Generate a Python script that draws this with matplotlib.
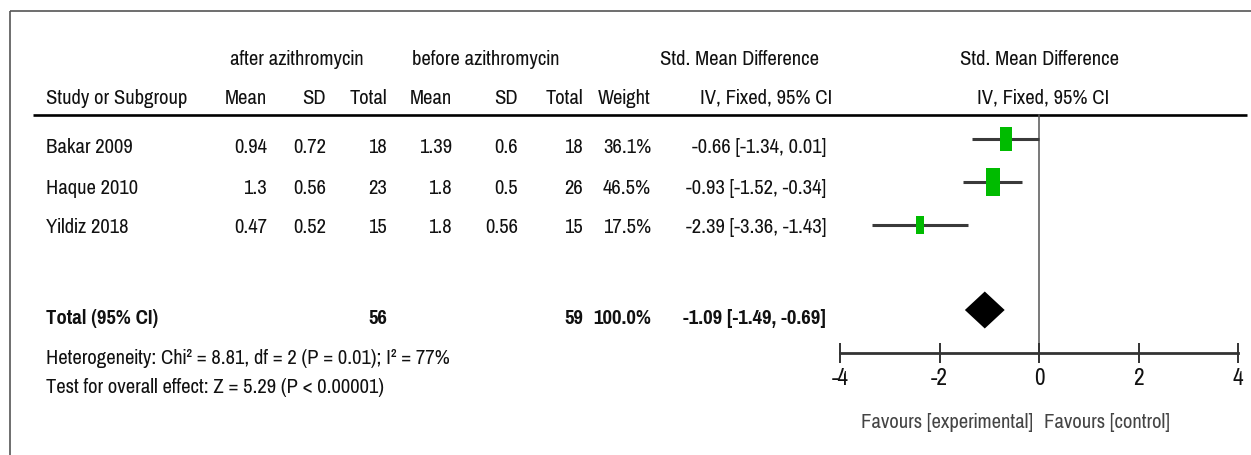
import numpy as np
import matplotlib
matplotlib.use("Agg")
import matplotlib.pyplot as plt
from matplotlib.patches import Rectangle, Polygon

plt.rcParams['font.family'] = ['Pragati Narrow', 'Liberation Sans', 'DejaVu Sans']

# ---- data ----
studies = ["Bakar 2009", "Haque 2010", "Yildiz 2018"]
after_mean = [0.94, 1.3, 0.47]
after_sd = [0.72, 0.56, 0.52]
after_n = [18, 23, 15]
before_mean = [1.39, 1.8, 1.8]
before_sd = [0.6, 0.5, 0.56]
before_n = [18, 26, 15]
weights = [36.1, 46.5, 17.5]
smd = [-0.66, -0.93, -2.39]
ci_low = [-1.34, -1.52, -3.36]
ci_high = [0.01, -0.34, -1.43]

total_after_n = 56
total_before_n = 59
total_weight = 100.0
total_smd = -1.09
total_low = -1.49
total_high = -0.69

heterogeneity = "Heterogeneity: Chi² = 8.81, df = 2 (P = 0.01); I² = 77%"
overall_test = "Test for overall effect: Z = 5.29 (P < 0.00001)"
xticks = [-4, -2, 0, 2, 4]
favour_left = "Favours [experimental]"
favour_right = "Favours [control]"

# ---- layout (pixel units) ----
W, H = 1251, 455
fs = 16.2
txt = "#111111"
row_base = [153, 194, 233]      # text baselines for study rows
row_mark = [139, 182, 225]      # marker centres for study rows
total_base = 324
total_mark = 310
het_base = 364
test_base = 393
head1_base = 65
head2_base = 104
rule_y = 115
axis_y = 353

col_study = 46
col_am, col_asd, col_an = 267, 326, 387
col_bm, col_bsd, col_bn = 452, 518, 583
col_w = 651
col_ci = 826

fig = plt.figure(figsize=(W / 100, H / 100), dpi=100)
fig.patch.set_facecolor("white")

ax_t = fig.add_axes([0, 0, 1, 1])
ax_t.set_xlim(0, W)
ax_t.set_ylim(H, 0)
ax_t.axis("off")

# outer frame and header rule
ax_t.plot([10, 10], [11, H], color="#555555", lw=1.2, solid_capstyle="butt")
ax_t.plot([10, W], [11, 11], color="#555555", lw=1.2, solid_capstyle="butt")
ax_t.plot([33, 1247], [rule_y, rule_y], color="black", lw=1.9, solid_capstyle="butt")

def t(x, y, s, ha="right", weight="normal", color=txt, size=fs):
    ax_t.text(x, y, s, ha=ha, va="baseline", fontsize=size, color=color, fontweight=weight)

# column headers
t(297, head1_base, "after azithromycin", ha="center")
t(486, head1_base, "before azithromycin", ha="center")
t(739, head1_base, "Std. Mean Difference", ha="center")
t(1039, head1_base, "Std. Mean Difference", ha="center")
t(col_study, head2_base, "Study or Subgroup", ha="left")
for x, s in [(col_am, "Mean"), (col_asd, "SD"), (col_an, "Total"),
             (col_bm, "Mean"), (col_bsd, "SD"), (col_bn, "Total"),
             (col_w, "Weight")]:
    t(x, head2_base, s)
t(col_ci + 6, head2_base, "IV, Fixed, 95% CI")
t(1043, head2_base, "IV, Fixed, 95% CI", ha="center")

# study rows
for i, name in enumerate(studies):
    y = row_base[i]
    t(col_study, y, name, ha="left")
    t(col_am, y, f"{after_mean[i]:g}")
    t(col_asd, y, f"{after_sd[i]:g}")
    t(col_an, y, f"{after_n[i]}")
    t(col_bm, y, f"{before_mean[i]:g}")
    t(col_bsd, y, f"{before_sd[i]:g}")
    t(col_bn, y, f"{before_n[i]}")
    t(col_w, y, f"{weights[i]:.1f}%")
    t(col_ci, y, f"{smd[i]:.2f} [{ci_low[i]:.2f}, {ci_high[i]:.2f}]")

# pooled row
t(col_study, total_base, "Total (95% CI)", ha="left", weight="bold")
t(col_an, total_base, f"{total_after_n}", weight="bold")
t(col_bn, total_base, f"{total_before_n}", weight="bold")
t(col_w, total_base, f"{total_weight:.1f}%", weight="bold")
t(col_ci, total_base, f"{total_smd:.2f} [{total_low:.2f}, {total_high:.2f}]", weight="bold")

t(col_study, het_base, heterogeneity, ha="left")
t(col_study, test_base, overall_test, ha="left")

# ---- forest panel ----
x0, x1 = 840, 1238
ax_f = fig.add_axes([x0 / W, 0, (x1 - x0) / W, 1])
ax_f.set_xlim(-4, 4)
ax_f.set_ylim(H, 0)
ax_f.patch.set_visible(False)
for side in ("left", "right", "top"):
    ax_f.spines[side].set_visible(False)
ax_f.spines["bottom"].set_position(("data", axis_y))
ax_f.spines["bottom"].set_linewidth(2.0)
ax_f.spines["bottom"].set_color("#333333")
ax_f.set_yticks([])
ax_f.set_xticks(xticks)
ax_f.set_xticklabels([f"{v:g}" for v in xticks])
ax_f.tick_params(axis="x", direction="inout", length=14, width=1.4, color="#333333",
                 pad=4, labelsize=fs + 2, labelcolor=txt)

# line of no effect
ax_f.plot([0, 0], [rule_y, axis_y], color="#555555", lw=1.1, zorder=1)

px_per_unit = (x1 - x0) / 8.0
for i in range(len(studies)):
    y = row_mark[i]
    ax_f.plot([ci_low[i], ci_high[i]], [y, y], color="#3a3a3a", lw=2.2,
              solid_capstyle="butt", zorder=2)
    side_px = 2.0 * np.sqrt(weights[i])
    w = side_px / px_per_unit
    h = 2.05 * side_px
    ax_f.add_patch(Rectangle((smd[i] - w / 2, y - h / 2), w, h,
                             facecolor="#00bb00", edgecolor="none", zorder=3))

dh = 18.5
ax_f.add_patch(Polygon([(total_low, total_mark), (total_smd, total_mark - dh),
                        (total_high, total_mark), (total_smd, total_mark + dh)],
                       closed=True, facecolor="black", edgecolor="none", zorder=3))

t(947, 428, favour_left, ha="center", color="#444444")
t(1107, 428, favour_right, ha="center", color="#444444")

fig.savefig("out.png", dpi=100, facecolor="white")
